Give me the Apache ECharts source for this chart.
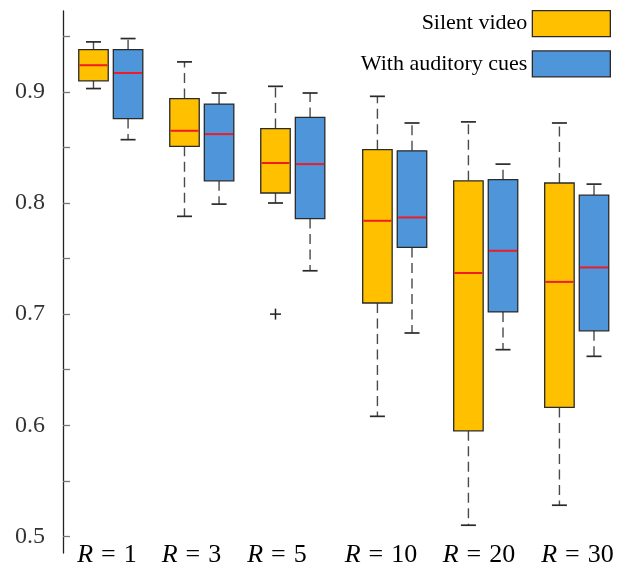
<!DOCTYPE html>
<html>
<head>
<meta charset="utf-8">
<script src="https://cdn.jsdelivr.net/npm/echarts@6/dist/echarts.min.js"></script>
<style>html,body{margin:0;padding:0;background:#fff;}#c{width:636px;height:569px;}</style>
</head>
<body>
<div id="c"></div>
<script>
// ---- data ----
const categories = ['1', '3', '5', '10', '20', '30'];
const positions = [1, 2, 3, 4.12, 5.12, 6.12];          // group centres on x axis
const labelPositions = [0.958, 1.887, 2.826, 3.969, 5.046, 6.128];
const yTicks = [0.5, 0.55, 0.6, 0.65, 0.7, 0.75, 0.8, 0.85, 0.9, 0.95];
const yLabels = [0.5, 0.6, 0.7, 0.8, 0.9];
// [min, q1, median, q3, max]
const silentVideo = [
  [0.903, 0.910, 0.924, 0.938, 0.945],
  [0.788, 0.851, 0.865, 0.894, 0.927],
  [0.800, 0.809, 0.836, 0.867, 0.905],
  [0.608, 0.710, 0.784, 0.848, 0.896],
  [0.510, 0.595, 0.737, 0.820, 0.873],
  [0.528, 0.616, 0.729, 0.818, 0.872]
];
const silentOutliers = [[], [], [0.70], [], [], []];
const auditoryCues = [
  [0.857, 0.876, 0.917, 0.938, 0.948],
  [0.799, 0.820, 0.862, 0.889, 0.899],
  [0.739, 0.786, 0.835, 0.877, 0.899],
  [0.683, 0.760, 0.787, 0.847, 0.872],
  [0.668, 0.702, 0.757, 0.821, 0.835],
  [0.662, 0.685, 0.742, 0.807, 0.817]
];
const auditoryOutliers = [[], [], [], [], [], []];

// ---- style ----
const YELLOW = '#FFC000', BLUE = '#4E95D9', MEDIAN = '#EE1C25';
const BORDER = '#2a2a2a', WHISKER = '#4a4a4a';
const FONT = 'Liberation Serif';
const pairOffset = 0.19, boxW = 0.324, capW = 0.165;

function makeRender(offset, outliersList) {
  return function (params, api) {
    const x = api.value(0) + offset;
    const mn = api.value(1), q1 = api.value(2), md = api.value(3), q3 = api.value(4), mx = api.value(5);
    const pMin = api.coord([x, mn]), pQ1 = api.coord([x, q1]), pMd = api.coord([x, md]);
    const pQ3 = api.coord([x, q3]), pMax = api.coord([x, mx]);
    const w = api.size([boxW, 0])[0];
    const cw = api.size([capW, 0])[0];
    const cx = pMd[0];
    const color = api.visual('color');
    const dash = { stroke: WHISKER, lineWidth: 1.4, lineDash: [10, 5.5] };
    const solid = { stroke: '#2a2a2a', lineWidth: 1.7 };
    const children = [
      { type: 'line', shape: { x1: cx, y1: pQ3[1], x2: cx, y2: pMax[1] }, style: dash },
      { type: 'line', shape: { x1: cx, y1: pQ1[1], x2: cx, y2: pMin[1] }, style: dash },
      { type: 'line', shape: { x1: cx - cw / 2, y1: pMax[1], x2: cx + cw / 2, y2: pMax[1] }, style: solid },
      { type: 'line', shape: { x1: cx - cw / 2, y1: pMin[1], x2: cx + cw / 2, y2: pMin[1] }, style: solid },
      { type: 'rect', shape: { x: cx - w / 2, y: pQ3[1], width: w, height: pQ1[1] - pQ3[1] },
        style: { fill: color, stroke: BORDER, lineWidth: 1.3 } },
      { type: 'line', shape: { x1: cx - w / 2 + 0.7, y1: pMd[1], x2: cx + w / 2 - 0.7, y2: pMd[1] },
        style: { stroke: MEDIAN, lineWidth: 2 } }
    ];
    (outliersList[params.dataIndex] || []).forEach(function (v) {
      const p = api.coord([x, v]);
      children.push({ type: 'line', shape: { x1: p[0] - 5.5, y1: p[1], x2: p[0] + 5.5, y2: p[1] }, style: { stroke: '#222', lineWidth: 1.5 } });
      children.push({ type: 'line', shape: { x1: p[0], y1: p[1] - 5.5, x2: p[0], y2: p[1] + 5.5 }, style: { stroke: '#222', lineWidth: 1.5 } });
    });
    return { type: 'group', children: children };
  };
}

function toData(stats) {
  return stats.map(function (s, i) { return [positions[i]].concat(s); });
}

const chart = echarts.init(document.getElementById('c'), null, { renderer: 'canvas' });
chart.setOption({
  animation: false,
  backgroundColor: '#fff',
  grid: { left: 63, top: 11, width: 548.3, bottom: 16, containLabel: false },
  legend: {
    orient: 'vertical', right: 20, top: 5, align: 'right',
    itemWidth: 78, itemHeight: 26, itemGap: 13, icon: 'rect',
    textStyle: { fontFamily: FONT, fontSize: 22, color: '#000' },
    data: [
      { name: 'Silent video', itemStyle: { color: YELLOW, borderColor: BORDER, borderWidth: 1.3 } },
      { name: 'With auditory cues', itemStyle: { color: BLUE, borderColor: BORDER, borderWidth: 1.3 } }
    ]
  },
  xAxis: {
    type: 'value', min: 0.475, max: 6.5,
    axisLine: { show: false }, axisTick: { show: false }, splitLine: { show: false },
    axisLabel: {
      customValues: labelPositions,
      margin: 2, verticalAlign: 'middle',
      fontFamily: FONT, fontSize: 26, color: '#000',
      formatter: function (v) {
        let best = 0;
        labelPositions.forEach(function (p, i) { if (Math.abs(p - v) < Math.abs(labelPositions[best] - v)) best = i; });
        return '{i|R}{e|=}' + categories[best];
      },
      rich: {
        i: { fontStyle: 'italic', fontFamily: FONT, fontSize: 26, color: '#000' },
        e: { fontFamily: FONT, fontSize: 26, color: '#000', padding: [0, 8, 0, 8] }
      }
    }
  },
  yAxis: {
    type: 'value', min: 0.485, max: 0.9728,
    axisLine: { show: true, lineStyle: { color: '#222', width: 1.3 } },
    axisTick: { show: true, inside: true, length: 7, customValues: yTicks, lineStyle: { color: '#777', width: 1.3 } },
    axisLabel: { customValues: yLabels, margin: 18, fontFamily: FONT, fontSize: 24, color: '#333',
      formatter: function (v) { return v.toFixed(1); } },
    splitLine: { show: false }
  },
  series: [
    {
      name: 'Silent video', type: 'custom',
      itemStyle: { color: YELLOW, borderColor: BORDER, borderWidth: 1.3 },
      renderItem: makeRender(-pairOffset, silentOutliers),
      encode: { x: 0, y: [1, 2, 3, 4, 5] },
      data: toData(silentVideo)
    },
    {
      name: 'With auditory cues', type: 'custom',
      itemStyle: { color: BLUE, borderColor: BORDER, borderWidth: 1.3 },
      renderItem: makeRender(pairOffset, auditoryOutliers),
      encode: { x: 0, y: [1, 2, 3, 4, 5] },
      data: toData(auditoryCues)
    }
  ]
});
</script>
</body>
</html>
